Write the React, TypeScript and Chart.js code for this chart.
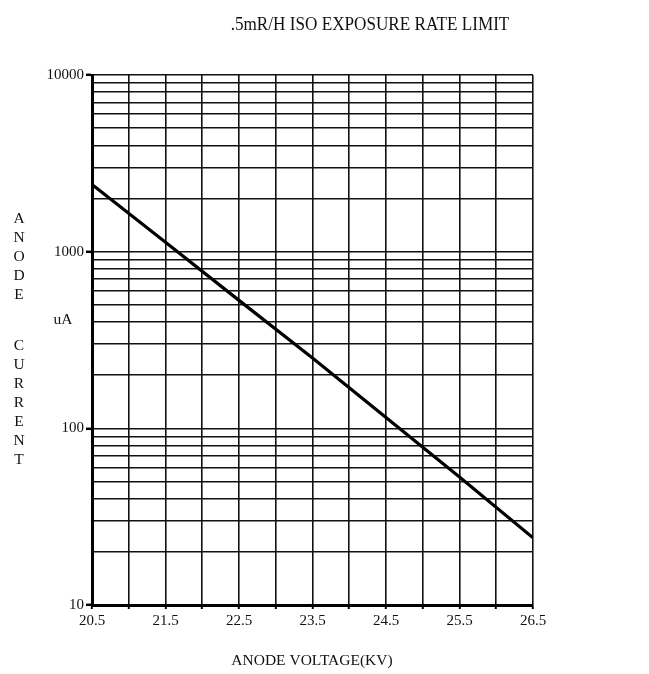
import React, { useEffect, useRef } from "react";
import { Chart, registerables } from "chart.js";

Chart.register(...registerables);

const TITLE = ".5mR/H ISO EXPOSURE RATE LIMIT";
const X_TITLE = "ANODE VOLTAGE(KV)";
const Y_TITLE_TOP = ["A", "N", "O", "D", "E"];
const Y_TITLE_BOTTOM = ["C", "U", "R", "R", "E", "N", "T"];
const Y_UNIT = "uA";

const VOLTAGES = [20.5, 21.5, 22.5, 23.5, 24.5, 25.5, 26.5];
const CURRENTS = [2400, 1130, 530, 250, 115, 53, 24];

const X_TICKS = [20.5, 21, 21.5, 22, 22.5, 23, 23.5, 24, 24.5, 25, 25.5, 26, 26.5];
const X_LABELS = [20.5, 21.5, 22.5, 23.5, 24.5, 25.5, 26.5];
const Y_TICKS = [
  10, 20, 30, 40, 50, 60, 70, 80, 90,
  100, 200, 300, 400, 500, 600, 700, 800, 900,
  1000, 2000, 3000, 4000, 5000, 6000, 7000, 8000, 9000,
  10000,
];
const Y_LABELS = [10, 100, 1000, 10000];

const FONT = "'Liberation Serif', 'DejaVu Serif', serif";

const textPlugin = {
  id: "extraText",
  afterDraw(chart: any) {
    const ctx = chart.ctx;
    ctx.save();
    ctx.fillStyle = "#111";
    ctx.textAlign = "center";
    ctx.textBaseline = "middle";
    ctx.save();
    ctx.translate(370, 25);
    ctx.scale(0.98, 1.08);
    ctx.font = `17.5px ${FONT}`;
    ctx.fillText(TITLE, 0, 0);
    ctx.restore();
    ctx.font = `15.5px ${FONT}`;
    ctx.fillText(X_TITLE, 312, 661);
    ctx.font = `15.5px ${FONT}`;
    Y_TITLE_TOP.forEach((ch, i) => ctx.fillText(ch, 19, 219 + i * 19));
    Y_TITLE_BOTTOM.forEach((ch, i) => ctx.fillText(ch, 19, 346 + i * 19));
    ctx.fillText(Y_UNIT, 63, 320);
    ctx.restore();
  },
};

export default function App() {
  const ref = useRef<HTMLCanvasElement>(null);
  useEffect(() => {
    const canvas = ref.current;
    if (!canvas) return;
    const chart = new Chart(canvas, {
      type: "line",
      data: {
        datasets: [
          {
            data: VOLTAGES.map((v, i) => ({ x: v, y: CURRENTS[i] })),
            borderColor: "#000",
            borderWidth: 3.2,
            pointRadius: 0,
            tension: 0,
            fill: false,
          },
        ],
      },
      options: {
        responsive: false,
        animation: false,
        devicePixelRatio: 1,
        layout: { padding: { left: 0, top: 75, right: 116, bottom: 0 } },
        plugins: {
          legend: { display: false },
          tooltip: { enabled: false },
          title: { display: false },
        },
        scales: {
          x: {
            type: "linear",
            min: 20.5,
            max: 26.5,
            afterBuildTicks: (s: any) => {
              s.ticks = X_TICKS.map((v) => ({ value: v }));
            },
            afterFit: (s: any) => {
              s.height = 69;
            },
            border: { display: true, color: "#000", width: 3 },
            grid: {
              color: "#111",
              lineWidth: 1.6,
              drawTicks: true,
              tickLength: 4,
              tickColor: "#000",
              tickWidth: 2,
            },
            ticks: {
              autoSkip: false,
              maxRotation: 0,
              color: "#111",
              padding: 3,
              font: { family: FONT, size: 15 },
              callback: (v: any) => (X_LABELS.includes(Number(v)) ? String(Number(v).toFixed(1)) : ""),
            },
          },
          y: {
            type: "logarithmic",
            min: 10,
            max: 10000,
            afterBuildTicks: (s: any) => {
              s.ticks = Y_TICKS.map((v) => ({ value: v }));
            },
            afterFit: (s: any) => {
              s.width = 92;
            },
            border: { display: true, color: "#000", width: 3 },
            grid: {
              color: "#111",
              lineWidth: 1.6,
              drawTicks: true,
              tickLength: 6,
              tickWidth: 2.5,
              tickColor: (c: any) => (c.tick && Y_LABELS.includes(c.tick.value) ? "#000" : "rgba(0,0,0,0)"),
            },
            ticks: {
              autoSkip: false,
              color: "#111",
              padding: 2,
              font: { family: FONT, size: 15 },
              callback: (v: any) => (Y_LABELS.includes(Number(v)) ? String(v) : ""),
            },
          },
        },
      },
      plugins: [textPlugin],
    } as any);
    return () => chart.destroy();
  }, []);
  return (
    <div style={{ position: "absolute", left: 0, top: 0, width: 649, height: 674, background: "#fff" }}>
      <canvas ref={ref} width={649} height={674} style={{ display: "block" }} />
    </div>
  );
}
